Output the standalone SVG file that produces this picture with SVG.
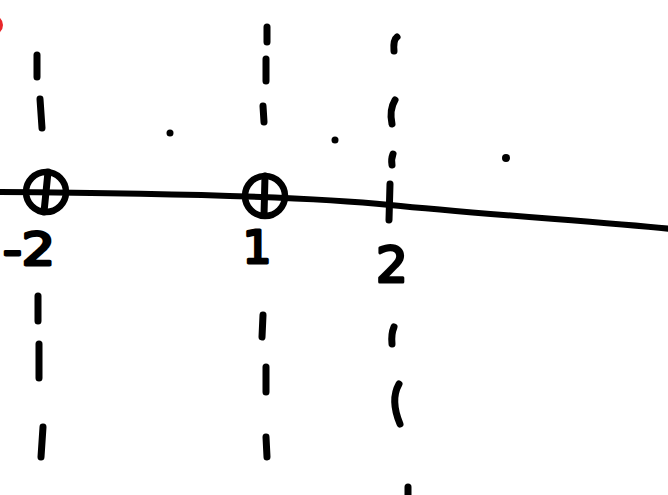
<svg xmlns="http://www.w3.org/2000/svg" width="668" height="495" viewBox="0 0 668 495">
<style>
.ink{fill:none;stroke:#000;stroke-width:7;stroke-linecap:round;stroke-linejoin:round}
.axis{fill:none;stroke:#000;stroke-width:6;stroke-linecap:round}
.ring{fill:none;stroke:#000;stroke-width:6.5}
.lbl{font-family:"DejaVu Sans",sans-serif;fill:#000;stroke:#000;stroke-width:3;stroke-linejoin:round}
.dot{fill:#000}
</style>
<rect width="668" height="495" fill="#fff"/>
<circle cx="-7" cy="25" r="10" fill="#e8262a"/>
<g id="connectors">
<path id="axis" class="axis" d="M-2,192 C150,193 300,196 390,205 S600,222 672,229"/>
</g>
<g id="line-minus2">
<path class="ink" d="M37,55 L37,77"/>
<path class="ink" d="M40,99 L42,128"/>
<path class="ink" d="M38,296 L38,321"/>
<path class="ink" d="M39,344 L39,378"/>
<path class="ink" d="M43,427 L41,457"/>
</g>
<g id="line-1">
<path class="ink" d="M267,27 L267,42"/>
<path class="ink" d="M266,59 L266,81"/>
<path class="ink" d="M263,106 L264,122"/>
<path class="ink" d="M263,315 L262,337"/>
<path class="ink" d="M266,367 L266,392"/>
<path class="ink" d="M266,437 L267,457"/>
</g>
<g id="line-2">
<path class="ink" d="M397,37 Q393,40 394,51"/>
<path class="ink" d="M395,100 Q389,110 392,124"/>
<path class="ink" d="M393,154 Q391,159 392,165"/>
<path class="ink" d="M390,184 L389,220"/>
<path class="ink" d="M394,327 Q391,334 392,344"/>
<path class="ink" d="M399,384 Q390,400 400,424"/>
<path class="ink" d="M408,487 L408,500"/>
</g>
<g id="node-minus2">
<circle class="ring" cx="46" cy="192" r="20"/>
<path class="ink" d="M48,172 L44,212" stroke-width="6"/>
<text class="lbl" x="3" y="265" font-size="44" textLength="52" lengthAdjust="spacingAndGlyphs">-2</text>
</g>
<g id="node-1">
<circle class="ring" cx="265" cy="196" r="20"/>
<path class="ink" d="M265,176 L264,215" stroke-width="6"/>
<text class="lbl" x="257" y="263" font-size="45" text-anchor="middle">1</text>
</g>
<g id="node-2">
<text class="lbl" x="392" y="282" font-size="50" text-anchor="middle">2</text>
</g>
<g id="dots">
<circle class="dot" cx="170" cy="133" r="3.5"/>
<circle class="dot" cx="335" cy="140" r="3.5"/>
<circle class="dot" cx="506" cy="158" r="4"/>
</g>
</svg>
